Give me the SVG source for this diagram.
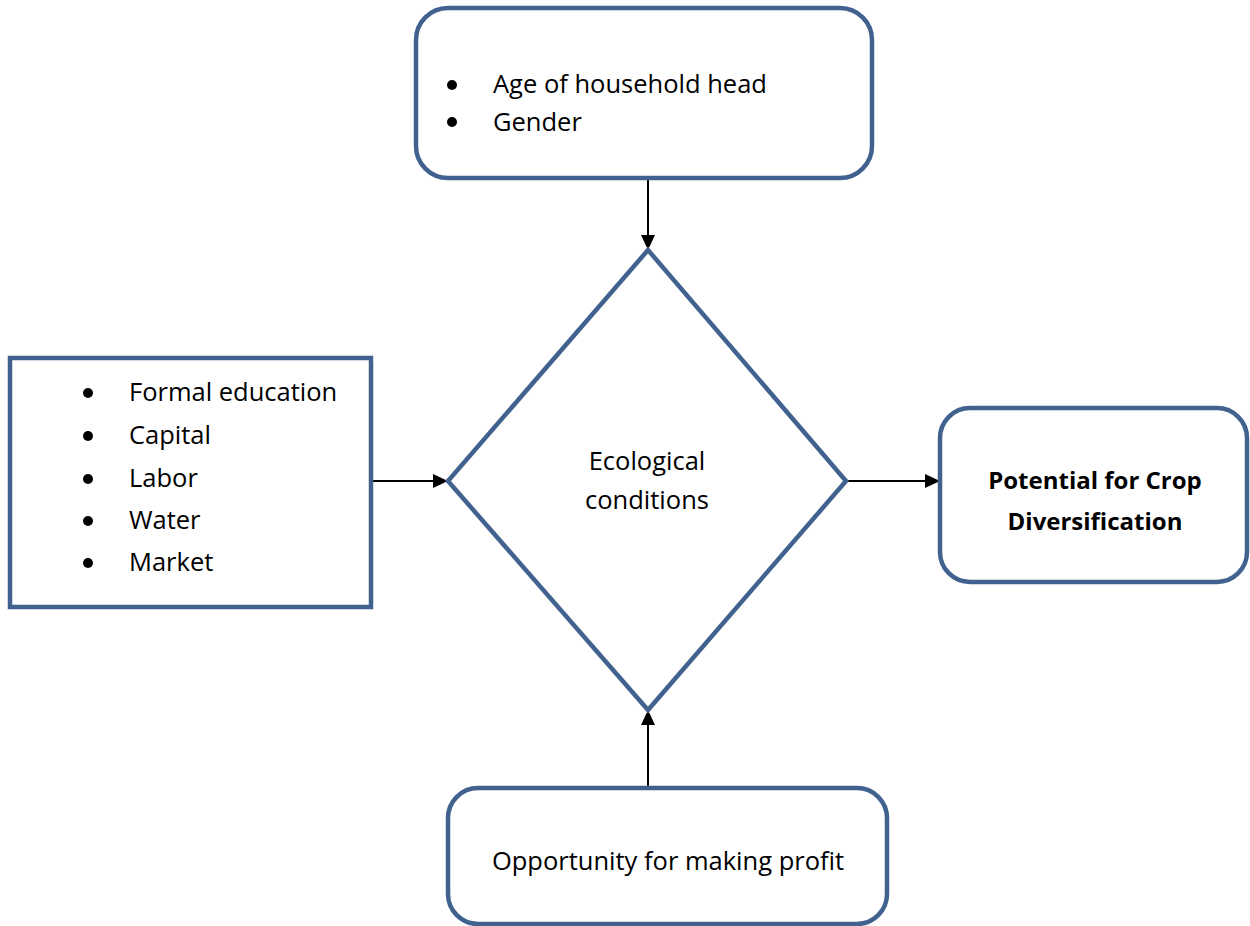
<svg xmlns="http://www.w3.org/2000/svg" width="1250" height="926" viewBox="0 0 1250 926">
<defs>
<style>
.n{fill:#fff;stroke:#41628F;stroke-width:4.5}
.t{font-family:"Open Sans","Liberation Sans",sans-serif;font-size:25.5px;fill:#000}
.b{font-weight:bold;font-size:24px}
.c{stroke:#000;stroke-width:2;fill:none}
</style>
<marker id="ah" markerWidth="15" markerHeight="14" refX="15" refY="7" orient="auto" markerUnits="userSpaceOnUse" viewBox="0 0 15 14">
<path d="M0,0 L15,7 L0,14 z" fill="#000"/>
</marker>
</defs>
<rect width="1250" height="926" fill="#fff"/>
<g id="connectors">
<line class="c" x1="648" y1="179" x2="648" y2="250" marker-end="url(#ah)"/>
<line class="c" x1="371" y1="481" x2="448" y2="481" marker-end="url(#ah)"/>
<line class="c" x1="847" y1="481" x2="940" y2="481" marker-end="url(#ah)"/>
<line class="c" x1="648" y1="788" x2="648" y2="710" marker-end="url(#ah)"/>
</g>
<g id="node-top">
<rect class="n" x="416" y="8" width="456" height="170" rx="32"/>
<circle cx="452" cy="85" r="5"/>
<circle cx="452" cy="122" r="5"/>
<text class="t" x="493" y="93">Age of household head</text>
<text class="t" x="493" y="131">Gender</text>
</g>
<g id="node-left">
<rect class="n" x="10" y="358" width="361" height="249"/>
<circle cx="88" cy="393" r="5"/>
<circle cx="88" cy="436" r="5"/>
<circle cx="88" cy="479" r="5"/>
<circle cx="88" cy="521" r="5"/>
<circle cx="88" cy="563" r="5"/>
<text class="t" x="129" y="401">Formal education</text>
<text class="t" x="129" y="444">Capital</text>
<text class="t" x="129" y="487">Labor</text>
<text class="t" x="129" y="529">Water</text>
<text class="t" x="129" y="571">Market</text>
</g>
<g id="node-center">
<polygon class="n" points="648,250 846,481 648,710 448,481"/>
<text class="t" x="647" y="470" text-anchor="middle">Ecological</text>
<text class="t" x="647" y="509" text-anchor="middle">conditions</text>
</g>
<g id="node-right">
<rect class="n" x="940" y="408" width="307" height="174" rx="30"/>
<text class="t b" x="1095" y="489" text-anchor="middle">Potential for Crop</text>
<text class="t b" x="1095" y="530" text-anchor="middle">Diversification</text>
</g>
<g id="node-bottom">
<rect class="n" x="448" y="788" width="439" height="136" rx="30"/>
<text class="t" x="668" y="870" text-anchor="middle">Opportunity for making profit</text>
</g>
</svg>
